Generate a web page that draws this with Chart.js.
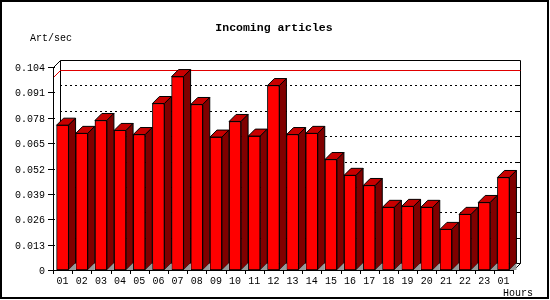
<!DOCTYPE html>
<html>
<head>
<meta charset="utf-8">
<script src="https://cdn.jsdelivr.net/npm/chart.js@4/dist/chart.umd.min.js"></script>
<style>
html,body{margin:0;padding:0;background:#fff;}
canvas{display:block;}
</style>
</head>
<body>
<canvas id="c" width="550" height="300"></canvas>
<script>
// ---- data ----
const categories = ['01','02','03','04','05','06','07','08','09','10','11','12',
                    '13','14','15','16','17','18','19','20','21','22','23','01'];
const values = [0.0742,0.0700,0.0766,0.0715,0.0694,0.0853,0.0991,0.0848,
                0.0681,0.0761,0.0686,0.0945,0.0694,0.0700,0.0566,0.0485,
                0.0433,0.0321,0.0326,0.0321,0.0208,0.0285,0.0346,0.0474];
const yTicks = [0,0.013,0.026,0.039,0.052,0.065,0.078,0.091,0.104];
const yTickLabels = ['0','0.013','0.026','0.039','0.052','0.065','0.078','0.091','0.104'];
const titleText = 'Incoming articles';
const yAxisTitle = 'Art/sec';
const xAxisTitle = 'Hours';
const maxLineValue = Math.max(...values);

const DEPTH = 7;
const FONT = '"Liberation Mono", "DejaVu Sans Mono", monospace';

const threeD = {
  id: 'threeD',
  beforeDatasetsDraw(chart) {
    const ctx = chart.ctx, xs = chart.scales.x, ys = chart.scales.y, a = chart.chartArea;
    const L = Math.round(a.left), R = Math.round(a.right), T = Math.round(a.top), B = Math.round(a.bottom);
    ctx.save();
    ctx.lineWidth = 1;
    // dotted gridlines on back wall
    ctx.strokeStyle = '#000';
    ctx.setLineDash([2, 3]);
    yTicks.forEach((v, i) => {
      if (i === 0 || i === yTicks.length - 1) return;
      const py = Math.round(ys.getPixelForValue(v)) - DEPTH + 0.5;
      ctx.beginPath(); ctx.moveTo(L + DEPTH, py); ctx.lineTo(R + DEPTH, py); ctx.stroke();
    });
    ctx.setLineDash([]);
    // right back ticks
    yTicks.forEach((v) => {
      const py = Math.round(ys.getPixelForValue(v)) - DEPTH + 0.5;
      ctx.beginPath(); ctx.moveTo(R + DEPTH - 4, py); ctx.lineTo(R + DEPTH, py); ctx.stroke();
    });
    // back frame
    ctx.beginPath();
    ctx.moveTo(L + DEPTH + 0.5, B - DEPTH + 0.5);
    ctx.lineTo(L + DEPTH + 0.5, T - DEPTH + 0.5);
    ctx.lineTo(R + DEPTH + 0.5, T - DEPTH + 0.5);
    ctx.lineTo(R + DEPTH + 0.5, B - DEPTH + 0.5);
    ctx.lineTo(R + 0.5, B + 0.5);
    ctx.moveTo(L + DEPTH + 0.5, B - DEPTH + 0.5);
    ctx.lineTo(R + DEPTH + 0.5, B - DEPTH + 0.5);
    ctx.stroke();
    // red max line
    const my = Math.round(ys.getPixelForValue(maxLineValue)) + 0.5;
    ctx.strokeStyle = '#e00000';
    ctx.beginPath();
    ctx.moveTo(L + 0.5, my);
    ctx.lineTo(L + DEPTH + 0.5, my - DEPTH);
    ctx.lineTo(R + DEPTH + 0.5, my - DEPTH);
    ctx.stroke();
    ctx.restore();
  },
  afterDatasetsDraw(chart) {
    const ctx = chart.ctx, xs = chart.scales.x, ys = chart.scales.y, a = chart.chartArea;
    const meta = chart.getDatasetMeta(0);
    const L = Math.round(a.left), R = Math.round(a.right), T = Math.round(a.top), B = Math.round(a.bottom);
    ctx.save();
    ctx.lineWidth = 1;
    ctx.strokeStyle = '#000';
    meta.data.forEach((bar) => {
      const p = bar.getProps(['x', 'y', 'base', 'width'], true);
      const xl = p.x - p.width / 2, xr = p.x + p.width / 2;
      const yt = p.y, yb = p.base;
      const d = DEPTH;
      // top face
      ctx.fillStyle = '#c80000';
      ctx.beginPath();
      ctx.moveTo(xl, yt); ctx.lineTo(xl + d, yt - d); ctx.lineTo(xr + d, yt - d); ctx.lineTo(xr, yt); ctx.closePath();
      ctx.fill(); ctx.stroke();
      // side face
      ctx.fillStyle = '#800000';
      ctx.beginPath();
      ctx.moveTo(xr, yt); ctx.lineTo(xr + d, yt - d); ctx.lineTo(xr + d, yb - d); ctx.lineTo(xr, yb); ctx.closePath();
      ctx.fill(); ctx.stroke();
      // floor triangle
      ctx.fillStyle = '#999999';
      ctx.beginPath();
      ctx.moveTo(xr, yb); ctx.lineTo(xr + d, yb - d); ctx.lineTo(xr + d, yb); ctx.closePath();
      ctx.fill();
    });
    // front axes
    ctx.beginPath();
    ctx.moveTo(L + 0.5, T + 0.5); ctx.lineTo(L + 0.5, B + 0.5); ctx.lineTo(R + 0.5, B + 0.5);
    ctx.moveTo(L + 0.5, T + 0.5); ctx.lineTo(L + DEPTH + 0.5, T - DEPTH + 0.5);
    ctx.stroke();
    // y ticks + labels
    ctx.fillStyle = '#000';
    ctx.font = '10px ' + FONT;
    ctx.textAlign = 'right';
    ctx.textBaseline = 'middle';
    yTicks.forEach((v, i) => {
      const py = Math.round(ys.getPixelForValue(v)) + 0.5;
      ctx.beginPath(); ctx.moveTo(L - 5, py); ctx.lineTo(L + 2, py); ctx.stroke();
      ctx.fillText(yTickLabels[i], L - 8, py + 0.5);
    });
    // x ticks + labels
    ctx.textAlign = 'center';
    ctx.textBaseline = 'alphabetic';
    const n = categories.length;
    for (let i = 0; i <= n; i++) {
      const px = Math.round(L + (R - L) * i / n) + 0.5;
      ctx.beginPath(); ctx.moveTo(px, B); ctx.lineTo(px, B + 4); ctx.stroke();
    }
    categories.forEach((c, i) => {
      ctx.fillText(c, xs.getPixelForValue(i), B + 14);
    });
    // axis titles
    ctx.textAlign = 'left';
    ctx.fillText(yAxisTitle, 30, 41);
    ctx.textAlign = 'right';
    ctx.fillText(xAxisTitle, 533, 296);
    // title
    ctx.font = 'bold 11.5px ' + FONT;
    ctx.textAlign = 'center';
    ctx.fillText(titleText, 274, 31);
    // outer frame
    ctx.lineWidth = 2;
    ctx.strokeRect(1, 1, 547, 297);
    ctx.restore();
  }
};

new Chart(document.getElementById('c'), {
  type: 'bar',
  data: {
    labels: categories,
    datasets: [{
      data: values,
      backgroundColor: '#ff0000',
      borderColor: '#000000',
      borderWidth: 1,
      borderSkipped: false,
      barThickness: 12
    }]
  },
  options: {
    responsive: false,
    animation: false,
    devicePixelRatio: 1,
    layout: { padding: { left: 53, top: 67, right: 37, bottom: 30 } },
    plugins: { legend: { display: false }, tooltip: { enabled: false }, title: { display: false } },
    scales: {
      x: { display: false, offset: true },
      y: {
        display: false, min: 0, max: 0.104,
        afterBuildTicks: (s) => { s.ticks = yTicks.map(v => ({ value: v })); }
      }
    }
  },
  plugins: [threeD]
});
</script>
</body>
</html>
